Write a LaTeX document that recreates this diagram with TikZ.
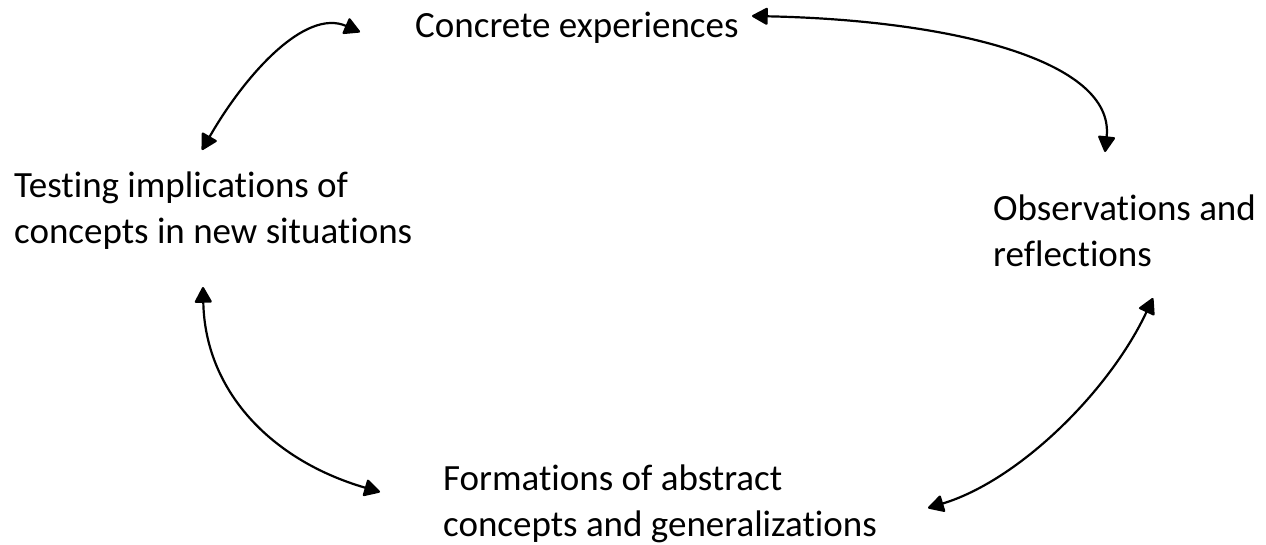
\documentclass[tikz,border=0pt]{standalone}
\usepackage{fontspec}
\setmainfont{Carlito}[Ligatures=NoCommon]
\usetikzlibrary{arrows.meta}
\begin{document}
\begin{tikzpicture}[x=1pt,y=-1pt,
  lbl/.style={anchor=base west,inner sep=0pt,align=left,
    font=\fontsize{37}{46}\selectfont},
  cyc/.style={line width=2.2pt,{Triangle[length=17pt,width=18pt,round]}-{Triangle[length=17pt,width=18pt,round]}}]
\useasboundingbox[fill=white] (0,0) rectangle (1266,544);
\node[lbl] (ce) at (415,37) {Concrete experiences};
\node[lbl] (ti) at (14,243) {Testing implications of\\concepts in new situations};
\node[lbl] (or) at (993,266) {Observations and\\reflections};
\node[lbl] (fa) at (443,536) {Formations of abstract\\concepts and generalizations};
\coordinate (a1) at (202,150);
\coordinate (a2) at (360,32);
\coordinate (b1) at (752,16);
\coordinate (b2) at (1105,152);
\coordinate (c1) at (203,287);
\coordinate (c2) at (380,492);
\coordinate (d1) at (1153,298);
\coordinate (d2) at (928,508);
\draw[cyc] (a1) .. controls (245,75) and (305,8) .. (a2);
\draw[cyc] (b1) .. controls (950,20) and (1115,60) .. (b2);
\draw[cyc] (c1) .. controls (205,390) and (270,460) .. (c2);
\draw[cyc] (d1) .. controls (1110,390) and (1020,480) .. (d2);
\end{tikzpicture}
\end{document}
